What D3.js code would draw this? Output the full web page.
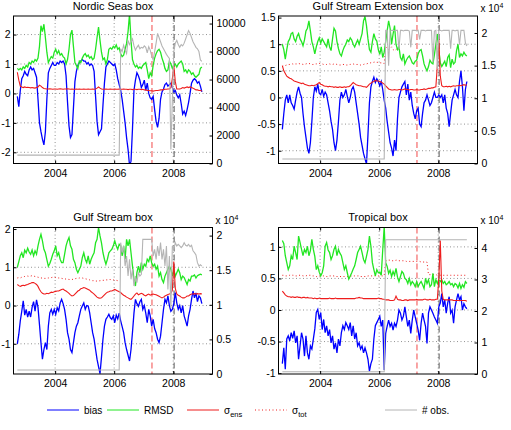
<!DOCTYPE html>
<html>
<head>
<meta charset="utf-8">
<script src="https://cdn.jsdelivr.net/npm/d3@7"></script>
<style>
  body { margin: 0; background: #fff; }
  svg text { font-family: "Liberation Sans", Arial, Helvetica, sans-serif; fill: #000; }
</style>
</head>
<body>
<div id="chart"></div>
<script>
// time base of the series: one value every 0.05 yr from 2002.72
const t0 = 2002.72, dt = 0.05;
const xTicks = [2004, 2006, 2008];
const eventYears = [2007.28, 2008.03];   // red dashed, black dashed
const titles = ["Nordic Seas box", "Gulf Stream Extension box", "Gulf Stream box", "Tropical box"];
const legendLabels = ["bias", "RMSD", "ens", "tot", "# obs."];

const nordicLeft = [-2, -1, 0, 1, 2];
const nordicRight = [0, 2000, 4000, 6000, 8000, 10000];
const gseLeft = [-1, -0.5, 0, 0.5, 1, 1.5];
const gseRight = [0, 5000, 10000, 15000, 20000];
const gsLeft = [-1, 0, 1, 2];
const gsRight = [0, 5000, 10000, 15000, 20000];
const tropLeft = [-1, -0.5, 0, 0.5, 1];
const tropRight = [0, 10000, 20000, 30000, 40000];

// ---- Nordic Seas box
const nordicBias = [
 -0.1, -0.45, 0.1, 0.5, 0.6, 0.75, 0.65, 0.6, 0.8, 0.9,
 0.8, 0.85, 0.7, 0.55, -0.2, -1.0, -1.3, -1.55, -1.75, -1.3,
 -0.2, 0.7, 0.85, 0.95, 1.05, 0.95, 0.95, 1.05, 1.0, 1.1,
 1.05, 1.1, 1.0, 0.6, -0.3, -1.1, -1.5, -1.4, -0.5, 0.4,
 0.75, 0.95, 1.05, 1.1, 1.15, 1.1, 1.1, 1.0, 1.05, 0.95,
 1.0, 0.95, 0.75, -0.1, -0.95, -1.4, -1.3, -1.2, -0.4, 0.35,
 0.9, 1.0, 1.1, 1.05, 1.0, 0.95, 1.0, 0.8, 0.5, 0.3,
 0.1, -0.2, -0.6, -1.0, -1.5, -1.9, -2.45, -2.3, -1.2, 0.1,
 0.45, 0.7, 0.6, 0.45, 0.2, 0.3, 0.45, 0.1, 0.35, 0.0,
 -0.15, -0.2, -0.1, -0.55, -0.95, -1.15, -0.85, -0.2, 0.05, 0.15,
 0.3, 0.35, 0.25, 0.3, 0.35, 0.2, 0.05, 0.1, -0.05, -0.15,
 -0.05, -0.35, -0.7, -0.6, -0.75, -0.55, -0.3, 0.0, 0.35, 0.45,
 0.5, 0.45, 0.35, 0.4, 0.25, 0.05
];
const nordicRmsd = [
 0.85, 0.8, 0.85, 0.8, 0.9, 0.85, 0.95, 0.9, 1.05, 1.0,
 1.1, 1.05, 1.15, 1.1, 1.2, 1.6, 2.3, 2.1, 2.35, 1.9,
 1.4, 1.05, 1.15, 1.25, 1.2, 1.4, 1.5, 1.35, 1.45, 1.3,
 1.35, 1.25, 1.2, 1.0, 1.15, 1.5, 2.0, 2.15, 1.6, 1.05,
 0.95, 0.85, 1.1, 1.05, 1.2, 1.3, 1.35, 1.25, 1.3, 1.2,
 1.25, 1.15, 1.2, 1.5, 1.9, 2.25, 1.8, 1.4, 1.15, 1.2,
 1.0, 1.15, 1.5, 1.55, 1.5, 1.6, 1.55, 1.65, 1.5, 1.55,
 1.35, 1.25, 1.3, 1.5, 1.7, 2.1, 2.7, 1.8, 1.15, 1.0,
 0.9, 0.95, 0.85, 0.9, 0.85, 0.95, 1.0, 1.05, 0.8, 0.5,
 0.7, 0.6, 0.95, 1.2, 1.35, 1.45, 1.5, 1.4, 1.2, 1.05,
 0.85, 0.75, 0.8, 1.1, 1.0, 0.85, 0.95, 1.0, 0.9, 1.0,
 1.05, 1.1, 1.0, 0.75, 0.8, 0.7, 0.8, 0.75, 0.65, 0.7,
 0.6, 0.55, 0.6, 0.65, 0.85, 0.9
];
const nordicSigEns = [
 0.72, 0.45, 0.25, 0.22, 0.2, 0.22, 0.2, 0.21, 0.2, 0.19,
 0.2, 0.19, 0.18, 0.2, 0.22, 0.28, 0.25, 0.2, 0.17, 0.16,
 0.15, 0.15, 0.16, 0.15, 0.14, 0.15, 0.15, 0.14, 0.15, 0.16,
 0.15, 0.14, 0.15, 0.15, 0.16, 0.15, 0.14, 0.15, 0.14, 0.14,
 0.15, 0.14, 0.15, 0.14, 0.14, 0.15, 0.14, 0.14, 0.15, 0.14,
 0.14, 0.15, 0.14, 0.15, 0.18, 0.22, 0.18, 0.15, 0.14, 0.14,
 0.15, 0.14, 0.14, 0.15, 0.14, 0.14, 0.15, 0.14, 0.14, 0.15,
 0.14, 0.14, 0.15, 0.14, 0.14, 0.13, 0.14, 0.14, 0.13, 0.14,
 0.14, 0.13, 0.14, 0.14, 0.13, 0.14, 0.12, 0.12, 0.1, 0.1,
 0.09, 0.09, 0.08, 0.09, 0.1, 0.1, 0.11, 0.12, 0.12, 0.13,
 0.14, 0.14, 0.15, 0.15, 0.2, 0.5, 0.95, 0.4, 0.15, 0.15,
 0.15, 0.17, 0.2, 0.18, 0.2, 0.22, 0.2, 0.22, 0.2, 0.18,
 0.15, 0.12, 0.12, 0.1, 0.1, 0.08
];
const nordicObs = [
 600, 600, 600, 600, 600, 600, 600, 600, 600, 600,
 600, 600, 600, 600, 600, 600, 600, 600, 600, 600,
 600, 600, 600, 600, 600, 600, 600, 600, 600, 600,
 600, 600, 600, 600, 600, 600, 600, 600, 600, 600,
 600, 600, 600, 600, 600, 600, 600, 600, 600, 600,
 600, 600, 600, 600, 600, 600, 600, 600, 600, 600,
 600, 600, 600, 600, 600, 600, 600, 600, 600, 600,
 8200, 8000, 8450, 8100, 7850, 8800, 8500, 8700, 8900, 8400,
 8100, 8300, 8450, 8200, 8300, 8250, 8400, 8300, 7900, 8350,
 8100, 7700, 7400, 8000, 8600, 9300, 9000, 8700, 8400, 8200,
 8000, 7800, 7650, 7500, 1000, 4500, 8000, 8600, 8800, 8500,
 8300, 8500, 8400, 8600, 8900, 9200, 9500, 9300, 9000, 8700,
 8500, 8300, 8200, 8000, 7400, 7300
];

// ---- Gulf Stream Extension box
const gseBias = [
 -0.6, -0.3, -0.05, 0.05, -0.1, 0.05, -0.1, -0.15, -0.22, -0.05,
 0.1, 0.2, 0.08, 0.0, -0.3, -0.55, -0.75, -0.95, -1.05, -0.85,
 -0.45, 0.0, 0.2, 0.12, 0.25, 0.08, 0.05, 0.15, 0.02, 0.1,
 0.05, -0.1, -0.25, -0.45, -0.6, -0.85, -1.0, -0.8, -0.45, -0.05,
 0.1, 0.0, 0.05, 0.15, 0.02, -0.1, 0.0, 0.15, 0.2, 0.1,
 -0.1, -0.3, -0.5, -0.75, -0.9, -1.05, -1.15, -1.25, -0.7, -0.1,
 0.2, 0.3, 0.38, 0.28, 0.35, 0.3, 0.22, 0.3, 0.15, -0.05,
 -0.2, -0.45, -0.65, -0.85, -0.95, -1.1, -0.8, -1.0, -0.4, 0.0,
 0.1, 0.2, 0.25, 0.3, 0.05, 0.25, -0.05, 0.1, -0.15, -0.3,
 -0.4, -0.25, -0.2, -0.5, -0.55, -0.3, -0.1, -0.05, 0.05, -0.05,
 -0.15, -0.1, 0.0, 0.1, 0.0, 0.0, 0.05, 0.0, 0.05, -0.1,
 0.05, -0.2, -0.3, -0.55, -0.3, -0.05, 0.05, 0.15, 0.05, 0.0,
 0.3, 0.5, 0.2, -0.25, 0.15, 0.3
];
const gseRmsd = [
 1.0, 0.9, 0.72, 0.9, 1.05, 1.1, 1.2, 1.22, 1.1, 1.05,
 1.15, 1.2, 1.1, 1.05, 0.97, 1.08, 1.25, 1.3, 1.44, 1.25,
 1.05, 0.95, 0.82, 0.95, 1.05, 1.12, 1.02, 1.1, 1.05, 1.0,
 0.95, 1.1, 0.95, 0.88, 1.1, 1.3, 1.25, 1.05, 0.92, 0.82,
 0.78, 0.88, 0.95, 1.0, 1.08, 1.05, 1.12, 1.08, 1.0, 0.95,
 1.02, 1.08, 1.0, 1.1, 1.2, 1.44, 1.52, 1.35, 1.1, 0.9,
 0.85, 1.05, 1.2, 1.1, 1.06, 0.9, 0.81, 0.95, 0.75, 0.85,
 1.05, 1.25, 1.44, 1.3, 1.0, 1.19, 1.35, 1.0, 0.9, 0.95,
 0.75, 0.7, 0.82, 0.63, 0.7, 0.75, 0.78, 0.72, 0.65, 0.63,
 0.68, 0.7, 0.82, 0.88, 0.9, 0.78, 0.63, 0.56, 0.5, 0.58,
 0.7, 0.65, 0.63, 0.8, 1.0, 1.19, 0.9, 0.65, 0.58, 0.63,
 0.68, 0.58, 0.75, 0.8, 0.56, 0.72, 0.63, 0.66, 0.88, 1.0,
 0.75, 0.82, 0.78, 0.85, 0.8, 0.78
];
const gseSigEns = [
 0.6, 0.5, 0.45, 0.4, 0.38, 0.36, 0.35, 0.33, 0.31, 0.3,
 0.29, 0.28, 0.27, 0.26, 0.27, 0.25, 0.24, 0.23, 0.22, 0.22,
 0.23, 0.22, 0.23, 0.24, 0.26, 0.28, 0.25, 0.24, 0.22, 0.21,
 0.21, 0.2, 0.21, 0.2, 0.2, 0.19, 0.2, 0.19, 0.19, 0.2,
 0.19, 0.19, 0.2, 0.19, 0.2, 0.2, 0.22, 0.25, 0.28, 0.26,
 0.24, 0.23, 0.22, 0.22, 0.21, 0.2, 0.2, 0.19, 0.22, 0.25,
 0.27, 0.29, 0.3, 0.32, 0.31, 0.31, 0.3, 0.29, 0.27, 0.25,
 0.22, 0.19, 0.16, 0.15, 0.14, 0.14, 0.15, 0.14, 0.14, 0.15,
 0.15, 0.14, 0.15, 0.16, 0.15, 0.15, 0.14, 0.15, 0.15, 0.14,
 0.14, 0.15, 0.14, 0.14, 0.15, 0.15, 0.16, 0.15, 0.16, 0.17,
 0.17, 0.18, 0.18, 0.19, 0.2, 0.6, 1.1, 0.4, 0.22, 0.2,
 0.2, 0.21, 0.2, 0.21, 0.2, 0.21, 0.22, 0.21, 0.22, 0.22,
 0.23, 0.22, 0.23, 0.24, 0.23, 0.24
];
const gseSigTot = [
 0.58, 0.6, 0.6, 0.61, 0.62, 0.62, 0.63, 0.63, 0.62, 0.63,
 0.63, 0.64, 0.63, 0.63, 0.62, 0.62, 0.63, 0.64, 0.64, 0.63,
 0.62, 0.62, 0.63, 0.63, 0.64, 0.64, 0.63, 0.63, 0.62, 0.62,
 0.62, 0.63, 0.63, 0.62, 0.62, 0.63, 0.63, 0.62, 0.61, 0.61,
 0.61, 0.62, 0.62, 0.61, 0.61, 0.62, 0.62, 0.63, 0.63, 0.62,
 0.62, 0.62, 0.61, 0.61, 0.62, 0.62, 0.63, 0.63, 0.64, 0.65,
 0.65, 0.66, 0.66, 0.67, 0.66, 0.66, 0.65, 0.65, 0.64, 0.64,
 0.95, 0.92, 0.9, 0.92, 0.95, 0.9, 0.88, 0.9, 0.92, 0.9,
 null, null, null, null, null, null, null, null, null, null,
 null, null, null, null, null, null, null, null, null, null,
 null, null, null, null, null, null, null, null, null, null,
 null, null, null, null, null, null, null, null, null, null,
 null, null, null, null, null, null
];
const gseObs = [
 700, 700, 700, 700, 700, 700, 700, 700, 700, 700,
 700, 700, 700, 700, 700, 700, 700, 700, 700, 700,
 700, 700, 700, 700, 700, 700, 700, 700, 700, 700,
 700, 700, 700, 700, 700, 700, 700, 700, 700, 700,
 700, 700, 700, 700, 700, 700, 700, 700, 700, 700,
 700, 700, 700, 700, 700, 700, 700, 700, 700, 700,
 700, 700, 700, 700, 700, 700, 700, 700, 700, 700,
 20400, 20400, 15000, 20300, 20400, 20400, 20300, 20400, 20400, 17500,
 20400, 20400, 20300, 20400, 20400, 20400, 20300, 17800, 20400, 20400,
 20400, 20300, 20400, 19000, 20400, 20400, 20400, 20300, 20400, 20400,
 20400, 20400, 15500, 20300, 20400, 14500, 20400, 20400, 20300, 20400,
 20400, 20400, 20400, 20400, 17600, 20400, 20400, 20300, 20400, 20400,
 18200, 20400, 20400, 20400, 18500, 18000
];

// ---- Gulf Stream box
const gsBias = [
 -1.0, -0.75, -0.4, -0.15, 0.12, -0.25, -0.1, -0.3, -0.15, -0.3,
 -0.05, 0.1, -0.15, 0.15, -0.05, -0.5, -0.97, -1.4, -1.15, -0.97,
 -1.15, -0.54, -0.19, -0.1, -0.23, -0.1, -0.23, -0.06, -0.14, 0.07,
 0.16, 0.05, -0.1, -0.36, -0.71, -0.88, -1.15, -1.23, -0.97, -0.71,
 -0.54, -0.45, -0.27, -0.1, -0.01, 0.07, -0.1, 0.0, -0.01, -0.19,
 -0.45, -0.71, -0.88, -1.15, -1.41, -1.6, -1.78, -1.35, -0.88, -0.54,
 -0.36, -0.3, -0.23, -0.32, -0.36, -0.27, -0.45, -0.25, -0.35, -0.2,
 -0.4, -0.55, -0.71, -0.97, -1.15, -1.3, -1.45, -1.15, -0.7, -0.2,
 0.16, 0.05, -0.02, 0.1, 0.16, -0.1, 0.0, -0.2, -0.45, -0.1,
 -0.27, -0.54, -0.36, -0.6, -0.71, -0.88, -0.97, -0.8, -0.45, -0.1,
 0.16, 0.07, 0.25, 0.0, -0.15, -0.1, 0.05, 0.34, 0.07, -0.1,
 0.0, -0.19, 0.0, -0.27, -0.4, -0.54, -0.27, -0.1, 0.16, 0.38,
 0.2, 0.33, 0.1, 0.25, 0.2, 0.05
];
const gsRmsd = [
 1.0, 1.15, 1.3, 1.38, 1.25, 1.45, 1.38, 1.5, 1.4, 1.34,
 1.45, 1.3, 1.43, 1.34, 1.56, 1.73, 1.86, 1.69, 1.47, 1.38,
 1.2, 1.03, 1.1, 1.21, 1.34, 1.43, 1.56, 1.3, 1.38, 1.21,
 1.12, 1.12, 1.34, 1.56, 1.69, 1.78, 1.56, 1.47, 1.21, 1.12,
 0.95, 0.86, 0.95, 1.03, 1.25, 1.38, 1.21, 1.12, 1.3, 1.08,
 1.21, 1.3, 1.38, 1.64, 1.73, 2.04, 1.82, 1.64, 1.38, 1.21,
 1.08, 1.21, 1.38, 1.43, 1.47, 1.56, 1.69, 1.56, 1.47, 1.6,
 1.56, 1.3, 1.56, 1.21, 1.73, 1.56, 1.73, 1.38, 1.03, 0.68,
 0.51, 0.86, 1.03, 0.86, 1.12, 0.95, 1.08, 1.03, 1.21, 1.15,
 1.3, 1.12, 1.03, 1.08, 0.95, 1.03, 0.77, 0.86, 0.68, 0.6,
 0.77, 0.86, 0.95, 1.03, 0.95, 0.77, 0.95, 0.77, 0.86, 0.95,
 0.86, 0.68, 0.77, 0.73, 0.64, 0.55, 0.68, 0.64, 0.77, 0.77,
 0.8, 0.72, 0.78, 0.8, 0.82, 0.8
];
const gsSigEns = [
 0.55, 0.52, 0.5, 0.52, 0.53, 0.52, 0.54, 0.55, 0.57, 0.58,
 0.6, 0.6, 0.58, 0.55, 0.5, 0.42, 0.36, 0.32, 0.3, 0.3,
 0.32, 0.31, 0.33, 0.35, 0.34, 0.36, 0.37, 0.38, 0.38, 0.4,
 0.42, 0.43, 0.4, 0.38, 0.35, 0.32, 0.28, 0.25, 0.26, 0.3,
 0.34, 0.38, 0.4, 0.44, 0.45, 0.47, 0.46, 0.44, 0.42, 0.4,
 0.36, 0.33, 0.3, 0.26, 0.22, 0.2, 0.19, 0.2, 0.24, 0.28,
 0.32, 0.35, 0.36, 0.38, 0.38, 0.4, 0.42, 0.4, 0.38, 0.36,
 0.34, 0.3, 0.27, 0.25, 0.22, 0.2, 0.18, 0.16, 0.2, 0.25,
 0.3, 0.33, 0.28, 0.3, 0.32, 0.3, 0.27, 0.25, 0.28, 0.3,
 0.27, 0.29, 0.3, 0.29, 0.28, 0.26, 0.24, 0.22, 0.2, 0.22,
 0.25, 0.27, 0.29, 0.3, 0.32, 0.4, 1.15, 0.45, 0.3, 0.27,
 0.25, 0.22, 0.2, 0.2, 0.22, 0.25, 0.25, 0.28, 0.3, 0.3,
 0.31, 0.3, 0.31, 0.3, 0.31, 0.3
];
const gsSigTot = [
 0.72, 0.73, 0.72, 0.74, 0.75, 0.76, 0.77, 0.77, 0.76, 0.77,
 0.78, 0.77, 0.76, 0.75, 0.74, 0.73, 0.72, 0.72, 0.71, 0.71,
 0.72, 0.72, 0.73, 0.73, 0.74, 0.74, 0.73, 0.73, 0.72, 0.72,
 0.71, 0.7, 0.7, 0.69, 0.69, 0.68, 0.68, 0.68, 0.69, 0.7,
 0.71, 0.71, 0.72, 0.72, 0.72, 0.71, 0.7, 0.69, 0.68, 0.67,
 0.66, 0.65, 0.65, 0.64, 0.64, 0.64, 0.65, 0.65, 0.66, 0.66,
 0.67, 0.67, 0.68, 0.68, 0.67, 0.67, 0.66, 0.66, 0.65, 0.65,
 null, null, null, null, null, null, null, null, null, null,
 null, null, null, null, null, null, null, null, null, null,
 null, null, null, null, null, null, null, null, null, null,
 null, null, null, null, null, null, null, null, null, null,
 null, null, null, null, null, null, null, null, null, null,
 null, null, null, null, null, null
];
const gsObs = [
 580, 580, 580, 580, 580, 580, 580, 580, 580, 580,
 580, 580, 580, 580, 580, 580, 580, 580, 580, 580,
 580, 580, 580, 580, 580, 580, 580, 580, 580, 580,
 580, 580, 580, 580, 580, 580, 580, 580, 580, 580,
 580, 580, 580, 580, 580, 580, 580, 580, 580, 580,
 580, 580, 580, 580, 580, 580, 580, 580, 580, 580,
 580, 580, 580, 580, 580, 580, 580, 580, 580, 580,
 18980, 17530, 18500, 15600, 17050, 14160, 16570, 13680, 15120, 12710,
 14160, 13190, 14640, 14160, 14400, 19460, 19460, 19460, 19460, 19460,
 19460, 19460, 17050, 18020, 16570, 18500, 17050, 18980, 16570, 18020,
 15600, 18500, 12230, 17050, 9500, 18500, 18020, 18980, 18500, 18740,
 18500, 18250, 18500, 18980, 18600, 18500, 18740, 18400, 18600, 17800,
 17530, 17200, 16090, 15600, 15800, 15600
];

// ---- Tropical box
const tropBias = [
 -0.85, -0.6, -0.94, -0.46, -0.41, -0.49, -0.36, -0.45, -0.33, -0.52,
 -0.41, -0.78, -0.57, -0.36, -0.46, -0.73, -0.41, -0.68, -0.78, -0.57,
 -0.62, -0.46, -0.3, -0.04, 0.01, -0.15, -0.04, -0.31, -0.15, -0.36,
 -0.25, -0.41, -0.31, -0.52, -0.41, -0.62, -0.52, -0.68, -0.46, -0.57,
 -0.36, -0.25, -0.31, -0.2, -0.25, -0.31, -0.2, -0.41, -0.25, -0.46,
 -0.36, -0.57, -0.52, -0.62, -0.57, -0.68, -0.6, -0.68, -0.78, -0.97,
 -0.85, -0.78, -0.46, -0.25, -0.2, -0.15, -0.1, -0.26, -0.16, -0.95,
 -0.37, -0.26, -0.16, -0.26, -0.21, -0.32, -0.21, -0.26, -0.16, 0.0,
 -0.05, -0.16, -0.1, 0.05, -0.11, -0.26, -0.16, -0.37, -0.16, 0.0,
 -0.11, -0.21, -0.32, -0.48, -0.21, -0.05, -0.16, -0.26, -0.53, -0.05,
 0.05, 0.0, -0.05, -0.11, -0.16, -0.21, 0.05, 0.11, 0.26, 0.05,
 0.16, -0.05, 0.11, 0.21, -0.05, 0.0, -0.21, 0.05, 0.16, 0.26,
 0.16, 0.21, 0.0, 0.1, 0.05, 0.02
];
const tropRmsd = [
 1.1, 1.05, 0.86, 0.75, 0.64, 0.7, 0.86, 0.8, 1.01, 0.91,
 0.8, 1.17, 1.07, 0.96, 0.86, 0.96, 0.91, 1.01, 0.86, 0.94,
 1.12, 0.96, 0.85, 0.64, 0.7, 0.6, 0.54, 0.59, 0.7, 1.01,
 1.07, 0.95, 0.91, 0.8, 0.86, 0.96, 1.01, 0.86, 0.96, 0.9,
 0.86, 0.75, 0.64, 0.7, 0.59, 0.49, 0.54, 0.59, 0.65, 0.7,
 0.8, 0.91, 0.96, 1.01, 0.91, 0.8, 0.75, 0.85, 0.96, 1.17,
 1.01, 0.75, 0.64, 0.54, 0.64, 0.59, 0.6, 0.55, 0.95, 1.32,
 0.75, 0.69, 0.58, 0.63, 0.53, 0.61, 0.55, 0.66, 0.52, 0.45,
 0.53, 0.61, 0.58, 0.5, 0.48, 0.42, 0.5, 0.4, 0.45, 0.42,
 0.37, 0.45, 0.37, 0.42, 0.45, 0.4, 0.34, 0.5, 0.42, 0.48,
 0.37, 0.4, 0.58, 0.37, 0.48, 0.42, 0.48, 0.45, 0.48, 0.42,
 0.45, 0.4, 0.42, 0.45, 0.4, 0.42, 0.37, 0.42, 0.4, 0.35,
 0.42, 0.34, 0.4, 0.36, 0.45, 0.42
];
const tropSigEns = [
 0.3, 0.27, 0.24, 0.22, 0.21, 0.21, 0.2, 0.21, 0.2, 0.2,
 0.21, 0.2, 0.2, 0.19, 0.2, 0.2, 0.19, 0.2, 0.19, 0.19,
 0.19, 0.18, 0.19, 0.18, 0.18, 0.19, 0.18, 0.18, 0.18, 0.18,
 0.18, 0.18, 0.19, 0.18, 0.18, 0.18, 0.19, 0.18, 0.18, 0.18,
 0.18, 0.18, 0.18, 0.18, 0.18, 0.18, 0.18, 0.18, 0.18, 0.18,
 0.19, 0.19, 0.2, 0.19, 0.19, 0.18, 0.18, 0.18, 0.18, 0.18,
 0.18, 0.18, 0.18, 0.18, 0.18, 0.19, 0.18, 0.18, 0.17, 0.17,
 0.16, 0.16, 0.16, 0.15, 0.15, 0.15, 0.16, 0.22, 0.17, 0.16,
 0.16, 0.15, 0.15, 0.16, 0.16, 0.15, 0.16, 0.16, 0.16, 0.16,
 0.16, 0.17, 0.16, 0.16, 0.16, 0.16, 0.17, 0.17, 0.16, 0.16,
 0.17, 0.16, 0.16, 0.16, 0.17, 0.17, 0.5, 1.1, 0.3, 0.17,
 0.16, 0.16, 0.16, 0.16, 0.16, 0.16, 0.15, 0.15, 0.15, 0.15,
 0.15, 0.15, 0.15, 0.15, 0.15, 0.14
];
const tropSigTot = [
 0.55, 0.55, 0.54, 0.54, 0.55, 0.55, 0.56, 0.55, 0.55, 0.54,
 0.54, 0.55, 0.55, 0.55, 0.54, 0.54, 0.54, 0.55, 0.55, 0.55,
 0.54, 0.54, 0.54, 0.53, 0.53, 0.54, 0.54, 0.54, 0.54, 0.53,
 0.53, 0.53, 0.54, 0.54, 0.54, 0.54, 0.53, 0.53, 0.53, 0.53,
 0.53, 0.53, 0.53, 0.53, 0.53, 0.53, 0.53, 0.54, 0.54, 0.54,
 0.54, 0.54, 0.54, 0.53, 0.53, 0.53, 0.53, 0.53, 0.54, 0.54,
 0.54, 0.54, 0.54, 0.54, 0.54, 0.54, 0.54, 0.54, 0.54, 0.54,
 0.78, 0.78, 0.79, 0.79, 0.78, 0.78, 0.78, 0.79, 0.79, 0.78,
 0.78, 0.78, 0.78, 0.78, 0.77, 0.77, 0.77, 0.77, 0.77, 0.77,
 0.77, 0.77, 0.77, 0.77, 0.76, 0.76, 0.76, 0.76, 0.76, 0.56,
 0.56, 0.56, 0.56, 0.56, 0.56, 0.55, 0.55, 0.55, 0.55, 0.55,
 0.55, 0.55, 0.55, 0.55, 0.55, 0.55, 0.55, 0.55, 0.55, 0.55,
 0.55, 0.55, 0.55, 0.55, 0.55, 0.55
];
const tropObs = [
 730, 730, 730, 730, 730, 730, 730, 730, 730, 730,
 730, 730, 730, 730, 730, 730, 730, 730, 730, 730,
 730, 730, 730, 730, 730, 730, 730, 730, 730, 730,
 730, 730, 730, 730, 730, 730, 730, 730, 730, 730,
 730, 730, 730, 730, 730, 730, 730, 730, 730, 730,
 730, 730, 730, 730, 730, 730, 730, 730, 730, 730,
 730, 730, 730, 730, 730, 730, 730, 730, 730, 730,
 42600, 42600, 42600, 42600, 42600, 42600, 42600, 42600, 42600, 42600,
 42600, 42600, 42600, 42600, 42600, 42600, 42600, 42600, 42600, 42600,
 42600, 42600, 42600, 42600, 42600, 42600, 42600, 42600, 42600, 42600,
 42600, 42600, 42600, 42600, 42600, 42600, 42600, 42600, 42600, 42600,
 42600, 42600, 42600, 42600, 42600, 42600, 42600, 42600, 42600, 42600,
 42600, 42600, 42600, 42600, 42600, 42600
];

const colors = { bias: "#0000ff", rmsd: "#22e622", ens: "#ee1c1c", tot: "#ee1c1c", obs: "#b4b4b4" };

const panels = [
  { title: titles[0], x0: 13.5, x1: 212.5, y0: 16, y1: 163.5, yDom: [-2.38, 2.63], y2Dom: [0, 10540],
    left: nordicLeft, right: nordicRight, exp: false,
    bias: nordicBias, rmsd: nordicRmsd, ens: nordicSigEns, tot: null, obs: nordicObs },
  { title: titles[1], x0: 278.5, x1: 477.5, y0: 16, y1: 163.5, yDom: [-1.24, 1.53], y2Dom: [0, 22600],
    left: gseLeft, right: gseRight, exp: true,
    bias: gseBias, rmsd: gseRmsd, ens: gseSigEns, tot: gseSigTot, obs: gseObs },
  { title: titles[2], x0: 13.5, x1: 212.5, y0: 227.5, y1: 374, yDom: [-1.79, 2.04], y2Dom: [0, 21170],
    left: gsLeft, right: gsRight, exp: true,
    bias: gsBias, rmsd: gsRmsd, ens: gsSigEns, tot: gsSigTot, obs: gsObs },
  { title: titles[3], x0: 278.5, x1: 477.5, y0: 227.5, y1: 374, yDom: [-1.014, 1.307], y2Dom: [0, 46500],
    left: tropLeft, right: tropRight, exp: true,
    bias: tropBias, rmsd: tropRmsd, ens: tropSigEns, tot: tropSigTot, obs: tropObs }
];

const svg = d3.select("#chart").append("svg")
  .attr("width", 511).attr("height", 430);

function drawPanel(p, k) {
  const x = d3.scaleLinear().domain([2002.59, 2009.33]).range([p.x0, p.x1]);
  const y = d3.scaleLinear().domain(p.yDom).range([p.y1, p.y0]);
  const y2 = d3.scaleLinear().domain(p.y2Dom).range([p.y1, p.y0]);
  const g = svg.append("g");

  const clipId = "clip" + k;
  svg.append("clipPath").attr("id", clipId).append("rect")
    .attr("x", p.x0).attr("y", p.y0).attr("width", p.x1 - p.x0).attr("height", p.y1 - p.y0);

  // dotted grid
  const grid = g.append("g").attr("stroke", "#777").attr("stroke-width", 0.8)
    .attr("stroke-dasharray", "1,2.5");
  grid.selectAll("line.h").data(p.left.filter(v => y(v) > p.y0 + 2 && y(v) < p.y1 - 2)).join("line")
    .attr("x1", p.x0).attr("x2", p.x1).attr("y1", d => y(d)).attr("y2", d => y(d));
  grid.selectAll("line.v").data(xTicks).join("line")
    .attr("x1", d => x(d)).attr("x2", d => x(d)).attr("y1", p.y0).attr("y2", p.y1);

  // event lines
  g.append("line").attr("x1", x(eventYears[0])).attr("x2", x(eventYears[0]))
    .attr("y1", p.y0).attr("y2", p.y1)
    .attr("stroke", "#f24a4a").attr("stroke-width", 1).attr("stroke-dasharray", "6,3");
  g.append("line").attr("x1", x(eventYears[1])).attr("x2", x(eventYears[1]))
    .attr("y1", p.y0).attr("y2", p.y1)
    .attr("stroke", "#555").attr("stroke-width", 1).attr("stroke-dasharray", "6,3");

  const plot = g.append("g").attr("clip-path", `url(#${clipId})`).attr("fill", "none");
  const toPts = arr => arr.map((v, i) => ({ t: t0 + i * dt, v }));
  const line = sc => d3.line().defined(d => d.v != null).x(d => x(d.t)).y(d => sc(d.v));

  if (p.tot) {
    plot.append("path").datum(toPts(p.tot)).attr("d", line(y))
      .attr("stroke", colors.tot).attr("stroke-width", 1).attr("stroke-dasharray", "1,2.5");
  }
  plot.append("path").datum(toPts(p.bias)).attr("d", line(y))
    .attr("stroke", colors.bias).attr("stroke-width", 1.3);
  plot.append("path").datum(toPts(p.rmsd)).attr("d", line(y))
    .attr("stroke", colors.rmsd).attr("stroke-width", 1.3);
  plot.append("path").datum(toPts(p.ens)).attr("d", line(y))
    .attr("stroke", colors.ens).attr("stroke-width", 1.1);
  plot.append("path").datum(toPts(p.obs)).attr("d", line(y2))
    .attr("stroke", colors.obs).attr("stroke-width", 1.1);

  // axes
  const fs = "10.5px";
  const ax = g.append("g").attr("transform", `translate(${p.x0},0)`)
    .call(d3.axisLeft(y).tickValues(p.left).tickSizeInner(-3).tickSizeOuter(0).tickPadding(3)
      .tickFormat(d => String(d)));
  const ax2 = g.append("g").attr("transform", `translate(${p.x1},0)`)
    .call(d3.axisRight(y2).tickValues(p.right).tickSizeInner(-3).tickSizeOuter(0).tickPadding(4)
      .tickFormat(d => p.exp ? String(d / 10000) : String(d)));
  const axb = g.append("g").attr("transform", `translate(0,${p.y1})`)
    .call(d3.axisBottom(x).tickValues(xTicks).tickSizeInner(-3).tickSizeOuter(0).tickPadding(6)
      .tickFormat(d3.format("d")));
  const axt = g.append("g").attr("transform", `translate(0,${p.y0})`)
    .call(d3.axisTop(x).tickValues(xTicks).tickSizeInner(-3).tickSizeOuter(0).tickFormat(""));
  [ax, ax2, axb, axt].forEach(a => {
    a.select(".domain").remove();
    a.selectAll("text").style("font-size", fs).attr("fill", "#000");
    a.selectAll("line").attr("stroke", "#000");
  });

  // frame
  g.append("rect").attr("x", p.x0).attr("y", p.y0)
    .attr("width", p.x1 - p.x0).attr("height", p.y1 - p.y0)
    .attr("fill", "none").attr("stroke", "#000").attr("stroke-width", 1);

  // title
  g.append("text").attr("x", (p.x0 + p.x1) / 2).attr("y", p.y0 - 6.5)
    .attr("text-anchor", "middle").style("font-size", "11px").text(p.title);

  if (p.exp) {
    const e = g.append("text").attr("x", p.x1 + 3).attr("y", p.y0 - 4).style("font-size", "10px");
    e.append("tspan").text("x 10");
    e.append("tspan").attr("dy", -4).style("font-size", "7px").text("4");
  }
}

panels.forEach(drawPanel);

// legend
const legY = 410;
const legend = svg.append("g").style("font-size", "10px");
const legItems = [
  { x: 47, label: legendLabels[0], color: colors.bias, dash: null, sigma: false },
  { x: 107, label: legendLabels[1], color: colors.rmsd, dash: null, sigma: false },
  { x: 187, label: legendLabels[2], color: colors.ens, dash: null, sigma: true },
  { x: 255, label: legendLabels[3], color: colors.tot, dash: "1,2.5", sigma: true },
  { x: 385, label: legendLabels[4], color: colors.obs, dash: null, sigma: false }
];
legItems.forEach(it => {
  legend.append("line").attr("x1", it.x).attr("x2", it.x + 32).attr("y1", legY).attr("y2", legY)
    .attr("stroke", it.color).attr("stroke-width", 1)
    .attr("stroke-dasharray", it.dash);
  const t = legend.append("text").attr("x", it.x + 37).attr("y", legY + 3.5);
  if (it.sigma) {
    t.append("tspan").text("\u03c3");
    t.append("tspan").attr("dy", 3).style("font-size", "7.5px").text(it.label);
  } else {
    t.text(it.label);
  }
});
</script>
</body>
</html>
